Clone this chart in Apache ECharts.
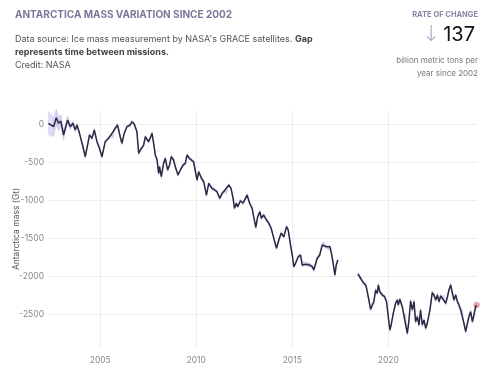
<!DOCTYPE html>
<html>
<head>
<meta charset="utf-8">
<script src="https://cdn.jsdelivr.net/npm/echarts@6/dist/echarts.min.js"></script>
<style>
  html, body { margin: 0; padding: 0; background: #fff; }
  #chart { width: 503px; height: 375px; }
</style>
</head>
<body>
<div id="chart"></div>
<script>
// GRACE mission (2002 - 2017), decimal years and mass change in Gt
const graceYears = [
  2002.30, 2002.57, 2002.71, 2002.83, 2002.95, 2003.09, 2003.30, 2003.44, 2003.58, 2003.70,
  2003.79, 2003.92, 2004.10, 2004.22, 2004.34, 2004.44, 2004.57, 2004.69, 2004.83, 2004.96,
  2005.09, 2005.26, 2005.43, 2005.56, 2005.66, 2005.78, 2005.90, 2006.04, 2006.13, 2006.25,
  2006.39, 2006.56, 2006.65, 2006.77, 2006.91, 2007.00, 2007.09, 2007.26, 2007.35, 2007.42,
  2007.52, 2007.70, 2007.78, 2007.87, 2007.96, 2008.04, 2008.09, 2008.18, 2008.30, 2008.39,
  2008.51, 2008.61, 2008.70, 2008.82, 2008.91, 2009.05, 2009.17, 2009.31, 2009.43, 2009.52,
  2009.64, 2009.74, 2009.86, 2010.04, 2010.13, 2010.27, 2010.39, 2010.53, 2010.65, 2010.82,
  2010.91, 2011.08, 2011.22, 2011.35, 2011.47, 2011.57, 2011.69, 2011.81, 2011.92, 2011.99,
  2012.09, 2012.16, 2012.30, 2012.44, 2012.56, 2012.65, 2012.78, 2012.91, 2012.99, 2013.10,
  2013.20, 2013.31, 2013.39, 2013.51, 2013.66, 2013.78, 2013.90, 2014.04, 2014.18, 2014.30,
  2014.42, 2014.56, 2014.70, 2014.79, 2014.91, 2015.00, 2015.08, 2015.17, 2015.31, 2015.43,
  2015.52, 2015.60, 2015.73, 2015.90, 2016.04, 2016.12, 2016.30, 2016.43, 2016.56, 2016.64,
  2016.77, 2016.87, 2016.96, 2017.04, 2017.13, 2017.22, 2017.29, 2017.37
];
const graceMass = [
  10, -35, 83, 9, 39, -144, 52, -35, 9, -79,
  -13, -122, -298, -429, -276, -144, -188, -79, -232, -319,
  -429, -232, -188, -144, -167, -56, -13, -167, -253, -122,
  -35, -13, 30, 0, -101, -384, -341, -276, -167, -197,
  -232, -122, -253, -407, -472, -647, -560, -691, -516, -450,
  -604, -538, -429, -472, -560, -669, -604, -538, -516, -407,
  -450, -472, -495, -735, -626, -712, -757, -932, -778, -844,
  -844, -888, -975, -909, -875, -901, -800, -844, -975, -1106,
  -1040, -1085, -1006, -1040, -975, -932, -1040, -1106, -1216, -1355,
  -1216, -1151, -1237, -1194, -1260, -1303, -1368, -1500, -1631, -1522,
  -1434, -1479, -1347, -1391, -1588, -1719, -1872, -1828, -1741, -1719,
  -1850, -1828, -1841, -1850, -1872, -1916, -1762, -1719, -1588, -1565,
  -1610, -1631, -1610, -1696, -1828, -1981, -1850, -1784
];
const graceUnc = [
  150, 130, 110, 95, 80, 65, 50, 40, 32, 26,
  22, 20, 20, 20, 20, 20, 20, 20, 20, 20,
  20, 20, 20, 20, 20, 20, 20, 20, 20, 20,
  20, 20, 20, 20, 20, 20, 20, 20, 20, 20,
  20, 20, 20, 20, 20, 20, 20, 20, 20, 20,
  20, 20, 20, 20, 20, 20, 20, 20, 20, 20,
  20, 20, 20, 20, 20, 20, 20, 20, 20, 20,
  20, 20, 20, 20, 20, 20, 20, 20, 20, 20,
  20, 20, 20, 20, 20, 20, 20, 20, 20, 20,
  20, 20, 20, 20, 20, 20, 20, 20, 20, 20,
  20, 20, 20, 20, 20, 20, 20, 20, 20, 20,
  25, 25, 25, 25, 25, 25, 25, 25, 25, 25,
  25, 25, 25, 25, 25, 25, 25, 25
];

// GRACE Follow-On mission (2018 - 2024)
const foYears = [
  2018.42, 2018.56, 2018.70, 2018.82, 2018.87, 2018.99, 2019.08, 2019.17, 2019.25, 2019.34,
  2019.43, 2019.48, 2019.56, 2019.69, 2019.81, 2019.91, 2019.98, 2020.08, 2020.15, 2020.26,
  2020.38, 2020.47, 2020.52, 2020.60, 2020.73, 2020.81, 2020.90, 2020.99, 2021.07, 2021.16,
  2021.25, 2021.34, 2021.42, 2021.51, 2021.60, 2021.68, 2021.77, 2021.86, 2021.95, 2022.03,
  2022.17, 2022.29, 2022.38, 2022.47, 2022.56, 2022.64, 2022.73, 2022.82, 2022.90, 2022.99,
  2023.08, 2023.16, 2023.25, 2023.34, 2023.42, 2023.51, 2023.60, 2023.68, 2023.77, 2023.86,
  2023.94, 2024.03, 2024.12, 2024.20, 2024.29, 2024.38, 2024.46, 2024.55, 2024.60
];
const foMass = [
  -1968, -2024, -2082, -2112, -2156, -2309, -2431, -2375, -2331, -2178,
  -2221, -2112, -2200, -2244, -2266, -2331, -2484, -2703, -2637, -2484,
  -2352, -2309, -2375, -2300, -2397, -2506, -2528, -2746, -2594, -2322,
  -2440, -2331, -2594, -2528, -2637, -2440, -2637, -2572, -2680, -2615,
  -2440, -2213, -2244, -2309, -2244, -2331, -2257, -2287, -2266, -2352,
  -2266, -2178, -2112, -2221, -2309, -2244, -2331, -2375, -2440, -2463,
  -2615, -2725, -2615, -2528, -2463, -2594, -2506, -2397, -2375
];
const foUnc = [
  25, 25, 25, 25, 25, 25, 25, 25, 25, 25,
  25, 25, 25, 25, 25, 25, 25, 25, 25, 25,
  25, 25, 25, 25, 25, 25, 25, 25, 25, 25,
  25, 25, 25, 25, 25, 25, 25, 25, 25, 25,
  25, 25, 25, 25, 25, 25, 25, 25, 25, 25,
  25, 25, 25, 25, 25, 25, 25, 25, 25, 25,
  25, 25, 25, 25, 25, 25, 25, 25, 30
];

const yearTicks = [2005, 2010, 2015, 2020];
const massTicks = [0, -500, -1000, -1500, -2000, -2500];
const rateOfChange = 137;

const chart = echarts.init(document.getElementById('chart'), null, { renderer: 'canvas' });

const lineColor = '#2b2943';
const bandColor = 'rgba(170, 160, 230, 0.38)';
const fontFamily = 'Inter, "Noto Sans", sans-serif';

function pairs(xs, ys) {
  return xs.map((x, i) => [x, ys[i]]);
}

// uncertainty band: one quad per segment, between point i and i+1
function bandSeries(name, xs, ys, unc) {
  const data = xs.map((x, i) => [x, ys[i] - unc[i], ys[i] + unc[i]]);
  return {
    name: name + '-band',
    type: 'custom',
    silent: true,
    data: data,
    encode: { x: 0, y: [1, 2] },
    renderItem: (params, api) => {
      const i = params.dataIndex;
      if (i >= data.length - 1) return null;
      const a = data[i];
      const b = data[i + 1];
      const points = [
        api.coord([a[0], a[2]]),
        api.coord([b[0], b[2]]),
        api.coord([b[0], b[1]]),
        api.coord([a[0], a[1]]),
      ];
      return {
        type: 'polygon',
        shape: { points },
        style: { fill: bandColor, stroke: bandColor, lineWidth: 0.5 },
      };
    },
  };
}

const lastIdx = foYears.length - 1;

const option = {
  animation: false,
  title: [
    {
      text: 'ANTARCTICA MASS VARIATION SINCE 2002',
      left: 10,
      top: 5,
      textStyle: { fontFamily, fontSize: 10, fontWeight: 700, color: '#7e7699' },
    },
    {
      text: "{n|Data source: Ice mass measurement by NASA's GRACE satellites. }{b|Gap}\n{b|represents time between missions.}\n{n|Credit: NASA}",
      left: 10,
      top: 28,
      textStyle: {
        fontFamily,
        fontWeight: 400,
        lineHeight: 13,
        rich: {
          n: { fontFamily, fontSize: 9, color: '#555', fontWeight: 400, lineHeight: 13 },
          b: { fontFamily, fontSize: 9, color: '#444', fontWeight: 700, lineHeight: 13 },
        },
      },
    },
    {
      text: 'RATE OF CHANGE',
      right: 20,
      top: 6,
      textStyle: { fontFamily, fontSize: 7.5, fontWeight: 700, color: '#8c83a6' },
    },
    {
      text: '{a|↓}{v|' + rateOfChange + '}',
      right: 23,
      top: 19,
      textStyle: {
        rich: {
          a: { fontFamily: '"DejaVu Sans", sans-serif', fontSize: 22, color: '#aaa5c2', fontWeight: 300, padding: [0, 3, 0, 0] },
          v: { fontFamily, fontSize: 20, color: '#111', fontWeight: 400 },
        },
      },
    },
    {
      text: '{t|billion metric tons per}\n{t|year since 2002}',
      right: 20,
      top: 49,
      textStyle: {
        rich: {
          t: { fontFamily, fontSize: 8, color: '#777', lineHeight: 13, align: 'right', fontWeight: 400 },
        },
      },
    },
  ],
  grid: {
    left: 48,
    right: 26,
    top: 110,
    bottom: 27,
    outerBoundsMode: 'none',
  },
  xAxis: {
    type: 'value',
    min: 2002.28,
    max: 2024.62,
    axisLine: { show: false },
    axisTick: { show: false, customValues: yearTicks },
    axisLabel: {
      customValues: yearTicks,
      formatter: (v) => String(v),
      color: '#888',
      fontFamily,
      fontSize: 8.5,
      margin: 8,
    },
    splitLine: { show: true, lineStyle: { color: '#eeeeee', width: 1 } },
  },
  yAxis: {
    type: 'value',
    min: -2939,
    max: 184,
    name: 'Antarctica mass (Gt)',
    nameLocation: 'middle',
    nameGap: 27,
    nameMoveOverlap: false,
    nameTextStyle: { fontFamily, fontSize: 8.5, color: '#555' },
    axisLine: { show: false },
    axisTick: { show: false, customValues: massTicks },
    axisLabel: {
      customValues: massTicks,
      formatter: (v) => String(v),
      color: '#888',
      fontFamily,
      fontSize: 8.5,
      margin: 4,
    },
    splitLine: { show: true, lineStyle: { color: '#eeeeee', width: 1 } },
  },
  series: [
    bandSeries('grace', graceYears, graceMass, graceUnc),
    bandSeries('fo', foYears, foMass, foUnc),
    {
      name: 'GRACE',
      type: 'line',
      data: pairs(graceYears, graceMass),
      symbol: 'none',
      lineStyle: { color: lineColor, width: 1.5 },
    },
    {
      name: 'GRACE-FO',
      type: 'line',
      data: pairs(foYears, foMass),
      symbol: 'none',
      lineStyle: { color: lineColor, width: 1.5 },
    },
    {
      name: 'latest',
      type: 'scatter',
      data: [[foYears[lastIdx], foMass[lastIdx]]],
      symbolSize: 6,
      itemStyle: { color: '#e39a9f', borderColor: '#d77d85', borderWidth: 0.5 },
    },
  ],
};

chart.setOption(option);
</script>
</body>
</html>
